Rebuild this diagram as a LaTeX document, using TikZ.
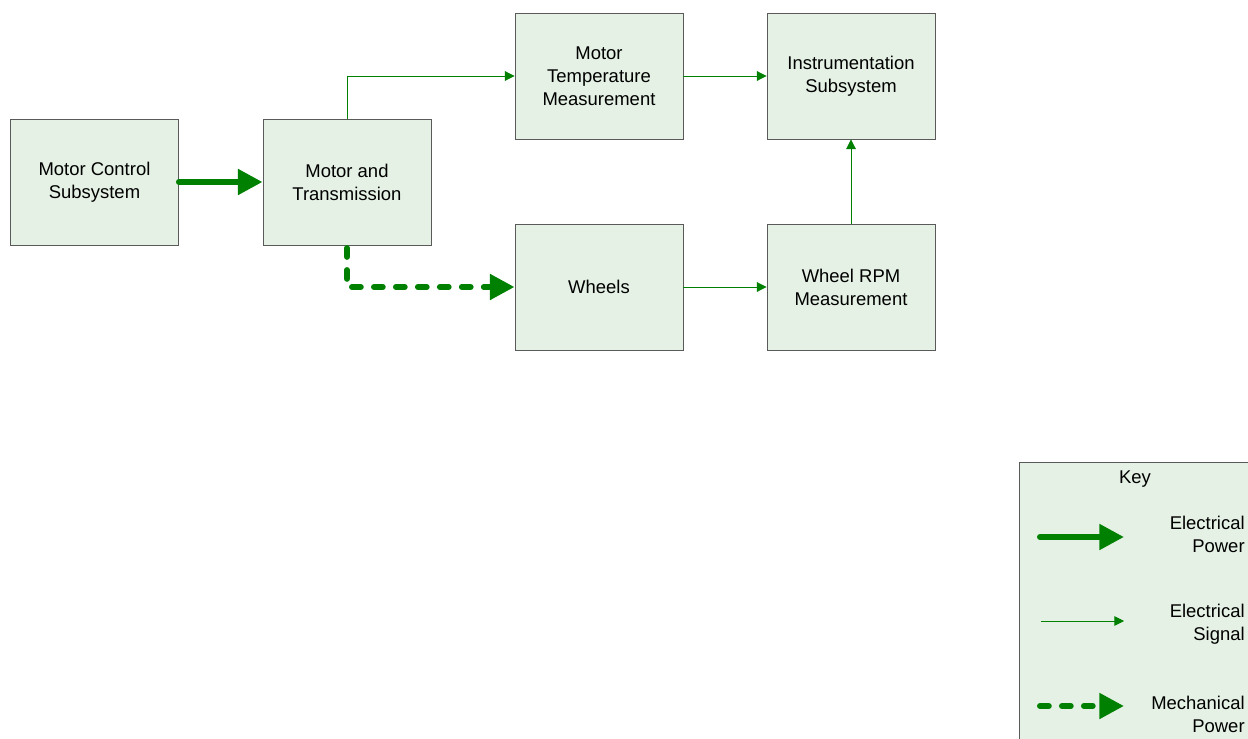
\documentclass[tikz,border=0pt]{standalone}
\usepackage{fontspec}
\setmainfont{Liberation Sans}
\usetikzlibrary{arrows.meta}
\definecolor{boxfill}{RGB}{228,241,228}
\definecolor{boxline}{RGB}{90,90,90}
\definecolor{wire}{RGB}{0,128,0}
\tikzset{
  block/.style={draw=boxline,line width=0.5pt,fill=boxfill,minimum width=3.36cm,minimum height=2.52cm,
    align=center,inner sep=0pt,font=\fontsize{10.5}{13}\selectfont},
  keytext/.style={anchor=east,align=right,inner sep=0pt,font=\fontsize{10.5}{13}\selectfont},
  power/.style={wire,line width=3.4pt,line cap=round,-{Triangle[length=14pt,width=14pt]}},
  signal/.style={wire,line width=0.5pt,-{Triangle[length=5.5pt,width=5.5pt]}},
  mech/.style={power,dash pattern=on 5pt off 7.5pt}
}
\begin{document}
\begin{tikzpicture}
        \useasboundingbox (0,0) rectangle (24.96,-14.78);
        % blocks
        \node[block] (mcs) at (1.89,-3.64) {Motor Control\\Subsystem};
        \node[block] (mt) at (6.94,-3.64) {Motor and\\Transmission};
        \node[block] (temp) at (11.98,-1.52) {Motor\\Temperature\\Measurement};
        \node[block] (instr) at (17.02,-1.52) {Instrumentation\\Subsystem};
        \node[block] (wheels) at (11.98,-5.74) {Wheels};
        \node[block] (rpm) at (17.02,-5.74) {Wheel RPM\\Measurement};
        % connections
        \draw[power] (mcs.east) -- (mt.west);
        \draw[signal] (mt.north) |- (temp.west);
        \draw[signal] (temp.east) -- (instr.west);
        \draw[signal] (wheels.east) -- (rpm.west);
        \draw[signal] (rpm.north) -- (instr.south);
        \draw[mech] ([yshift=-1.5pt]mt.south) |- (wheels.west);
        % key
        \draw[boxline,line width=0.5pt,fill=boxfill] (20.38,-9.24) rectangle (25.2,-15.2);
        \node[inner sep=0pt,font=\fontsize{10.5}{13}\selectfont] (key) at (22.7,-9.58) {Key};
        \coordinate (p1) at (20.8,-10.74);
        \coordinate (p2) at (22.48,-10.74);
        \coordinate (s1) at (20.82,-12.42);
        \coordinate (s2) at (22.48,-12.42);
        \coordinate (m1) at (20.8,-14.12);
        \coordinate (m2) at (22.48,-14.12);
        \draw[power] (p1) -- (p2);
        \draw[signal] (s1) -- (s2);
        \draw[mech] (m1) -- (m2);
        \node[keytext] (ptext) at (24.9,-10.68) {Electrical\\Power};
        \node[keytext] (stext) at (24.9,-12.48) {Electrical\\Signal};
        \node[keytext] (mtext) at (24.9,-14.28) {Mechanical\\Power};
    \end{tikzpicture}
\end{document}
